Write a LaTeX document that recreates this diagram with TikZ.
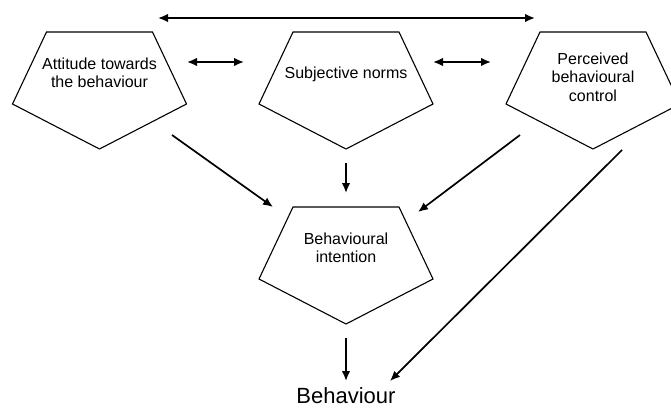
\documentclass[tikz,border=0pt]{standalone}
\usepackage{fontspec}
\setmainfont{Liberation Sans}
\usetikzlibrary{arrows.meta}

\begin{document}
\begin{tikzpicture}[x=1pt, y=-1pt,
    txt/.style={align=center, inner sep=0pt, font=\fontsize{16}{18.5}\selectfont},
    arr/.style={line width=1.7pt, -{Latex[length=10pt,width=8.5pt]}},
    dbl/.style={line width=1.7pt, {Latex[length=10pt,width=8.5pt]}-{Latex[length=10pt,width=8.5pt]}},
    pent/.pic={\draw[line width=1.1pt, line join=miter] (-53,-41) -- (53,-41) -- (87,31) -- (0,76) -- (-87,31) -- cycle;}]
        \clip (0,0) rectangle (671,410);

        % the four blocks
        \pic at (99.5,73) {pent};
        \pic at (346,73) {pent};
        \pic at (593,73) {pent};
        \pic at (346,248) {pent};

        \node[txt] (att) at (99.5,73) {Attitude towards\\the behaviour};
        \node[txt] (norms) at (346,74) {Subjective norms};
        \node[txt] (pbc) at (593,77) {Perceived\\behavioural\\control};
        \node[txt] (int) at (346,248) {Behavioural\\intention};
        \node[inner sep=0pt, font=\fontsize{22}{26}\selectfont] (beh) at (346,396) {Behaviour};

        % correlations
        \draw[dbl] ([shift={(58.5,-55)}]att.center) -- ([shift={(-58,-59)}]pbc.center);
        \draw[dbl] ([shift={(87.5,-11)}]att.center) -- ([shift={(-102,-12)}]norms.center);
        \draw[dbl] ([shift={(87,-12)}]norms.center) -- ([shift={(-102,-15)}]pbc.center);

        % paths to intention and behaviour
        \draw[arr] ([shift={(72.5,62)}]att.center) -- ([shift={(-73,-41)}]int.center);
        \draw[arr] ([shift={(0,89)}]norms.center) -- ([shift={(0,-55)}]int.center);
        \draw[arr] ([shift={(-73,58)}]pbc.center) -- ([shift={(72,-36)}]int.center);
        \draw[arr] ([shift={(0,90)}]int.center) -- ([shift={(0,-15)}]beh.center);
        \draw[arr] ([shift={(29,73)}]pbc.center) -- ([shift={(44,-15)}]beh.center);
\end{tikzpicture}
\end{document}
